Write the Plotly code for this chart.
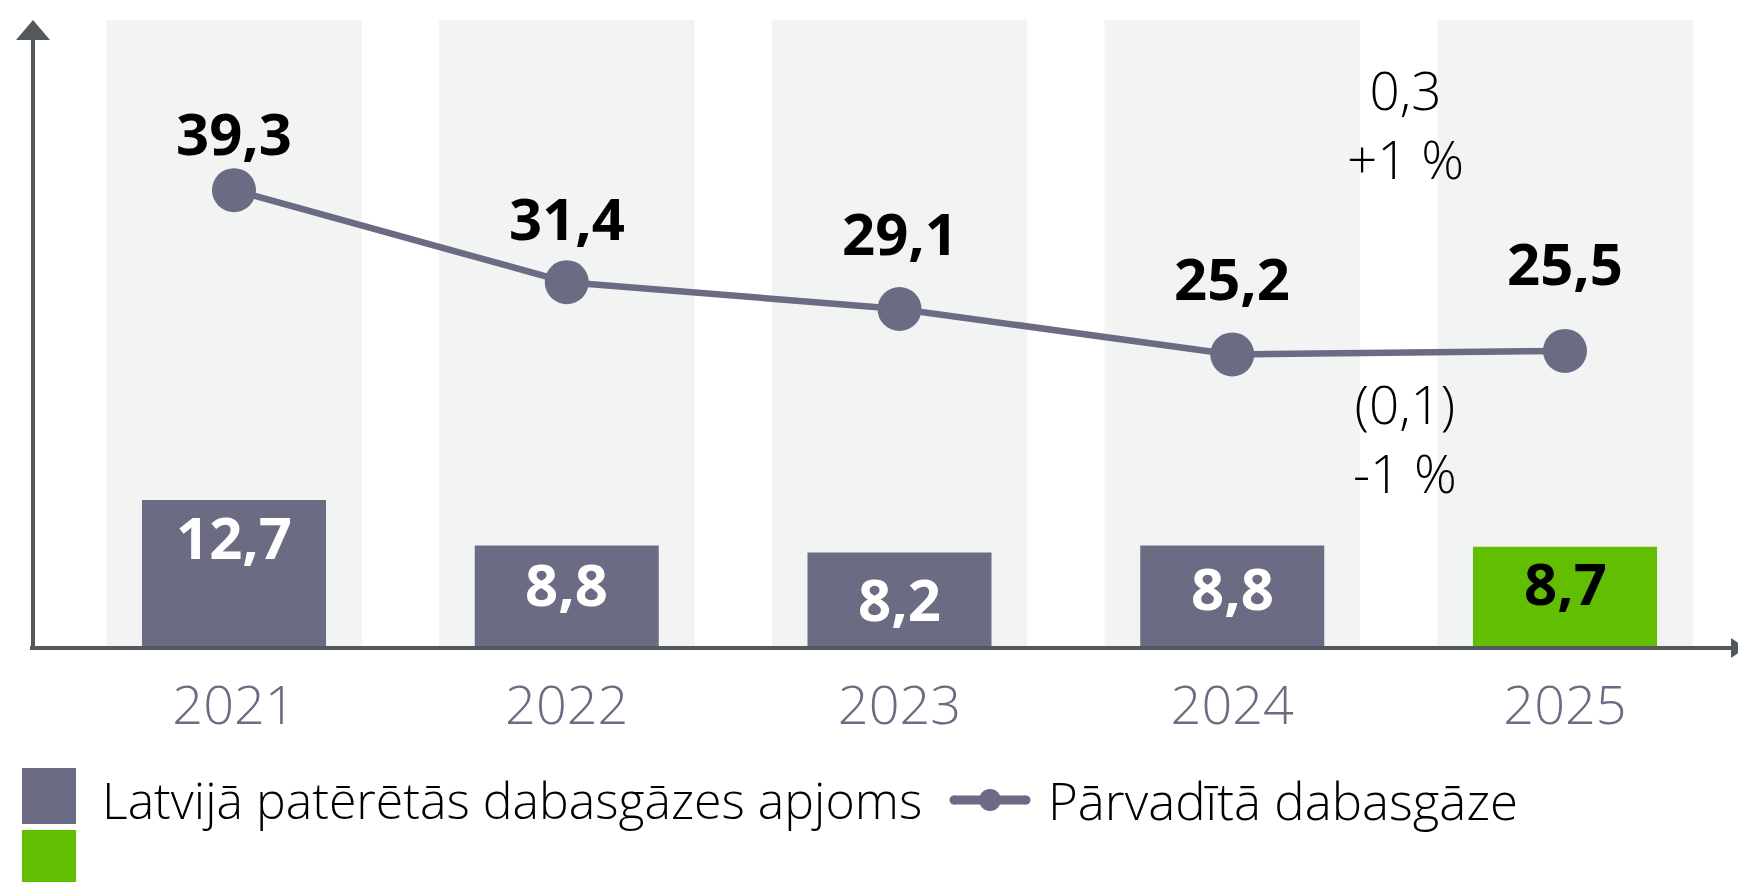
#Natural gas chart: consumed volume (bars) and transported gas (line), 2021-2025

import plotly.graph_objects as go

years = ["2021", "2022", "2023", "2024", "2025"]
consumed = [12.7, 8.8, 8.2, 8.8, 8.7]         # Latvijā patērētās dabasgāzes apjoms
transported = [39.3, 31.4, 29.1, 25.2, 25.5]  # Pārvadītā dabasgāze
consumed_name = "Latvijā patērētās dabasgāzes apjoms"
transported_name = "Pārvadītā dabasgāze"
transported_change = ["0,3", "+1 %"]
consumed_change = ["(0,1)", "-1 %"]

# styles
W, H = 1746, 882
OFF = 8                     # page body margin of the html page
L, R, T, B = 33 - OFF, 2 + OFF, 20 - OFF, 234 + OFF
PW, PH = W - L - R, H - T - B
purple = "#6b6b84"
green = "#62be00"
band = "#f2f4f3"
axis_col = "#53585c"
FONT = "Open Sans"
bar_label_drop = [36, 38, 46, 42, 36]     # px below bar top
line_label_lift = [58, 65, 76, 77, 88]    # px above marker


def fmt(v):
    return f"{v:.1f}".replace(".", ",")


# page pixel -> paper coordinates
def px_x(p):
    return (p - OFF - L) / PW


def px_y(p):
    return (T + PH - (p - OFF)) / PH


xs = list(range(len(years)))
bar_colors = [purple] * (len(years) - 1) + [green]

fig = go.Figure()

fig.add_trace(go.Bar(x=xs, y=consumed, width=0.553, marker=dict(color=bar_colors, line=dict(width=0)),
                     name=consumed_name, showlegend=False, hoverinfo="skip"))
fig.add_trace(go.Scatter(x=xs, y=transported, mode="lines+markers",
                         line=dict(color=purple, width=6.5),
                         marker=dict(color=purple, size=44),
                         name=transported_name, showlegend=False, hoverinfo="skip"))

shapes = []
# light background bands behind each year
for i in xs:
    shapes.append(dict(type="rect", xref="x", yref="paper", x0=i - 0.384, x1=i + 0.384, y0=0, y1=1,
                       fillcolor=band, line=dict(width=0), layer="below"))

# axes with arrows
shapes.append(dict(type="line", xref="paper", yref="paper", x0=0, x1=0, y0=px_y(650), y1=px_y(38),
                   line=dict(color=axis_col, width=4)))
shapes.append(dict(type="path", xref="paper", yref="paper",
                   path=f"M {px_x(16)} {px_y(40)} L {px_x(33)} {px_y(20)} L {px_x(50)} {px_y(40)} Z",
                   fillcolor=axis_col, line=dict(width=0)))
shapes.append(dict(type="line", xref="paper", yref="paper", x0=px_x(30), x1=px_x(1733), y0=px_y(648), y1=px_y(648),
                   line=dict(color=axis_col, width=4)))
shapes.append(dict(type="path", xref="paper", yref="paper",
                   path=f"M {px_x(1731)} {px_y(638)} L {px_x(1746)} {px_y(648)} L {px_x(1731)} {px_y(658)} Z",
                   fillcolor=axis_col, line=dict(width=0)))

# legend drawn by hand (large swatches)
shapes.append(dict(type="rect", xref="paper", yref="paper", x0=px_x(22), x1=px_x(76), y0=px_y(824), y1=px_y(768),
                   fillcolor=purple, line=dict(width=0)))
shapes.append(dict(type="rect", xref="paper", yref="paper", x0=px_x(22), x1=px_x(76), y0=px_y(882), y1=px_y(830),
                   fillcolor=green, line=dict(width=0)))
shapes.append(dict(type="line", xref="paper", yref="paper", x0=px_x(954), x1=px_x(1026), y0=px_y(800), y1=px_y(800),
                   line=dict(color=purple, width=9)))
for cx in (954, 1026):
    shapes.append(dict(type="circle", xref="paper", yref="paper", x0=px_x(cx - 4.5), x1=px_x(cx + 4.5),
                       y0=px_y(804.5), y1=px_y(795.5), fillcolor=purple, line=dict(width=0)))
shapes.append(dict(type="circle", xref="paper", yref="paper", x0=px_x(979), x1=px_x(1001), y0=px_y(811), y1=px_y(789),
                   fillcolor=purple, line=dict(width=0)))

annotations = []
for i, v in enumerate(consumed):
    annotations.append(dict(x=i, y=v, xref="x", yref="y", text=f"<b>{fmt(v)}</b>", showarrow=False,
                            yanchor="middle", yshift=-bar_label_drop[i],
                            font=dict(family=FONT, size=58, color="black" if i == len(consumed) - 1 else "white")))
for i, v in enumerate(transported):
    annotations.append(dict(x=i, y=v, xref="x", yref="y", text=f"<b>{fmt(v)}</b>", showarrow=False,
                            yanchor="middle", yshift=line_label_lift[i],
                            font=dict(family=FONT, size=58, color="black")))

# change notes between 2024 and 2025
for lines, yc in ((transported_change, 124), (consumed_change, 438)):
    annotations.append(dict(x=3.52, y=px_y(yc), xref="x", yref="paper", text="<br>".join(lines),
                            showarrow=False, yanchor="middle", align="center",
                            font=dict(family=FONT, size=53, color="black", weight=300)))

annotations.append(dict(x=px_x(100), y=px_y(800), xref="paper", yref="paper", text=consumed_name,
                        showarrow=False, xanchor="left", yanchor="middle",
                        font=dict(family=FONT, size=50, color="black", weight=300)))
annotations.append(dict(x=px_x(1046), y=px_y(800), xref="paper", yref="paper", text=transported_name,
                        showarrow=False, xanchor="left", yanchor="middle",
                        font=dict(family=FONT, size=51, color="black", weight=300)))

fig.update_layout(
    width=W, height=H,
    margin=dict(l=L, r=R, t=T, b=B),
    paper_bgcolor="white", plot_bgcolor="white",
    shapes=shapes, annotations=annotations,
    showlegend=False,
    xaxis=dict(range=[(L + OFF - 234) / 332.75, (L + OFF + PW - 234) / 332.75], tickvals=xs, ticktext=years,
               showgrid=False, zeroline=False, showline=False, ticks="",
               ticklabelstandoff=21,
               tickfont=dict(family=FONT, size=54, color=purple, weight=300)),
    yaxis=dict(range=[0, PH / 11.65], showgrid=False, zeroline=False, showline=False,
               showticklabels=False, ticks=""),
)

fig.write_html("out.html")
